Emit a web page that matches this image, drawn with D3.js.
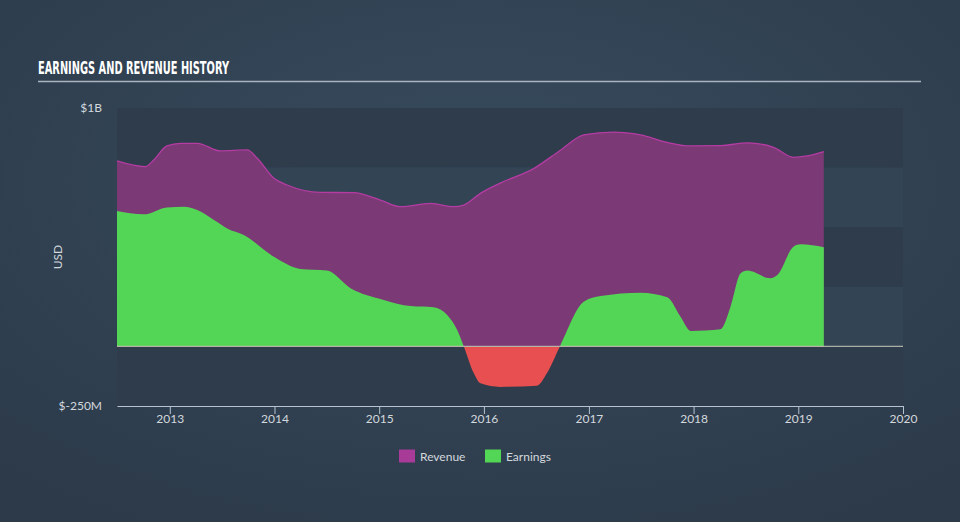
<!DOCTYPE html>
<html><head><meta charset="utf-8">
<script src="https://cdn.jsdelivr.net/npm/d3@7"></script>
<style>html,body{margin:0;padding:0;background:#324355;}svg{display:block;}</style>
</head><body>
<svg id="chart" width="960" height="522"></svg>
<script>
const revenueDates = ["2012-07-01","2012-10-08","2012-11-06","2012-12-22","2013-02-08","2013-04-07","2013-06-27","2013-09-28","2013-11-02","2013-12-30","2014-02-14","2014-06-10","2014-10-04","2015-01-05","2015-03-16","2015-06-29","2015-09-18","2015-10-23","2015-12-20","2016-02-27","2016-06-24","2016-09-25","2016-12-14","2017-03-29","2017-06-30","2017-10-01","2017-12-10","2018-04-05","2018-07-07","2018-10-07","2018-12-15","2019-02-01","2019-03-31"];
const revenueValues = [778,754,782,841,852,852,820,824,789,705,677,646,645,614,586,600,586,593,642,685,747,824,887,899,887,856,841,842,854,835,793,799,817];
const earningsDates = ["2012-07-01","2012-10-02","2012-12-22","2013-02-19","2013-04-07","2013-06-04","2013-07-20","2013-09-16","2013-12-30","2014-04-01","2014-07-03","2014-09-23","2015-01-17","2015-04-20","2015-07-10","2015-08-26","2015-09-30","2015-10-23","2015-11-27","2015-12-20","2016-02-27","2016-07-04","2016-08-08","2016-09-22","2016-12-14","2017-02-11","2017-06-30","2017-10-01","2017-11-16","2017-12-22","2018-04-05","2018-05-10","2018-06-14","2018-07-07","2018-09-26","2018-10-20","2018-12-15","2019-01-09","2019-03-31"];
const earningsValues = [568,554,583,586,572,530,495,467,376,325,318,244,195,169,164,132,69,0,-113,-155,-170,-165,-112,0,187,211,225,206,125,65,72,167,307,318,286,299,418,428,416];
const yTickValues = [-250, 1000];
const yTickLabels = ["$-250M", "$1B"];
const xTickYears = [2013,2014,2015,2016,2017,2018,2019,2020];
const seriesNames = ["Revenue","Earnings"];
const chartTitle = "EARNINGS AND REVENUE HISTORY";

(function(){
const parse = d3.timeParse("%Y-%m-%d");
const revenue = revenueDates.map((d,i)=>({date:parse(d), value:revenueValues[i]}));
const earnings = earningsDates.map((d,i)=>({date:parse(d), value:earningsValues[i]}));

const svg = d3.select("#chart");
const W = 960, H = 522;
const mLeft = 117, mRight = 903, mTop = 108, mBottom = 406;

const defs = svg.append("defs");
const rg = defs.append("radialGradient").attr("id","bg").attr("cx","50%").attr("cy","35%").attr("r","75%");
rg.append("stop").attr("offset","0%").attr("stop-color","#374b5e");
rg.append("stop").attr("offset","100%").attr("stop-color","#2c3a49");
svg.append("rect").attr("width",W).attr("height",H).attr("fill","url(#bg)");

const x = d3.scaleTime().domain([parse("2012-07-01"), parse("2020-01-01")]).range([mLeft, mRight]);
const y = d3.scaleLinear().domain([-250, 1000]).range([mBottom, mTop]);

const bandEdges = [1000, 750, 500, 250, 0, -250];
for (let i = 0; i < bandEdges.length - 1; i++) {
  svg.append("rect").attr("x", mLeft).attr("width", mRight-mLeft)
    .attr("y", y(bandEdges[i])).attr("height", y(bandEdges[i+1]) - y(bandEdges[i]))
    .attr("fill", i % 2 === 0 ? "#2e3c4b" : "#334455");
}

svg.append("text").attr("x", 38).attr("y", 74).text(chartTitle)
  .attr("font-family","'Liberation Sans Narrow','DejaVu Sans Condensed',sans-serif")
  .attr("font-weight","bold").attr("font-size",17).attr("fill","#ffffff")
  .attr("textLength",191).attr("lengthAdjust","spacingAndGlyphs");
svg.append("line").attr("x1",38).attr("x2",921).attr("y1",81.5).attr("y2",81.5)
  .attr("stroke","#aab4bf").attr("stroke-width",1.5);

const curve = d3.curveMonotoneX;
const revArea = d3.area().x(d=>x(d.date)).y0(y(0)).y1(d=>y(d.value)).curve(curve);
svg.append("path").datum(revenue).attr("d", revArea).attr("fill","#7b3975");
svg.append("path").datum(revenue).attr("d", d3.line().x(d=>x(d.date)).y(d=>y(d.value)).curve(curve))
  .attr("fill","none").attr("stroke","#b43ca3").attr("stroke-width",1.3);

defs.append("clipPath").attr("id","pos").append("rect").attr("x",0).attr("y",0).attr("width",W).attr("height",y(0));
defs.append("clipPath").attr("id","neg").append("rect").attr("x",0).attr("y",y(0)).attr("width",W).attr("height",H);
const earnArea = d3.area().x(d=>x(d.date)).y0(y(0)).y1(d=>y(d.value)).curve(curve);
svg.append("path").datum(earnings).attr("d", earnArea).attr("fill","#53d655").attr("clip-path","url(#pos)");
svg.append("path").datum(earnings).attr("d", earnArea).attr("fill","#e84f50").attr("clip-path","url(#neg)");

svg.append("line").attr("x1",mLeft).attr("x2",mRight).attr("y1",y(0)).attr("y2",y(0))
  .attr("stroke","#c3c1b4").attr("stroke-width",1.2).attr("opacity",0.85);

const xAxis = d3.axisBottom(x)
  .tickValues(xTickYears.map(yr=>new Date(yr,0,1)))
  .tickFormat(d3.timeFormat("%Y")).tickSize(8).tickSizeOuter(0);
const gx = svg.append("g").attr("transform",`translate(0,${mBottom})`).call(xAxis);
gx.select(".domain").attr("stroke","#b7c3cf").attr("stroke-width",1.2);
gx.selectAll(".tick line").attr("stroke","#b7c3cf");
gx.selectAll(".tick text").attr("fill","#d3d8dd").attr("font-size",12)
  .attr("font-family","Lato,'Open Sans',sans-serif").attr("y",8).attr("dy","0.71em");

const yAxis = d3.axisLeft(y).tickValues(yTickValues).tickFormat((d,i)=>yTickLabels[i]).tickSize(0).tickPadding(15);
const gy = svg.append("g").attr("transform",`translate(${mLeft},0)`).call(yAxis);
gy.select(".domain").remove();
gy.selectAll(".tick text").attr("fill","#d3d8dd").attr("font-size",12)
  .attr("font-family","Lato,'Open Sans',sans-serif");

svg.append("text").attr("transform","translate(62,257) rotate(-90)").attr("text-anchor","middle")
  .text("USD").attr("fill","#d3d8dd").attr("font-size",12).attr("font-family","Lato,'Open Sans',sans-serif");

const legendColors = ["#a83a98","#53d655"];
const legendX = [399, 485];
seriesNames.forEach((n,i)=>{
  svg.append("rect").attr("x",legendX[i]).attr("y",449.5).attr("width",16).attr("height",13).attr("fill",legendColors[i]);
  svg.append("text").attr("x",legendX[i]+21).attr("y",460.5).text(n).attr("fill","#d3d8dd")
    .attr("font-size",12).attr("font-family","Lato,'Open Sans',sans-serif");
});
})();
</script>
</body></html>
